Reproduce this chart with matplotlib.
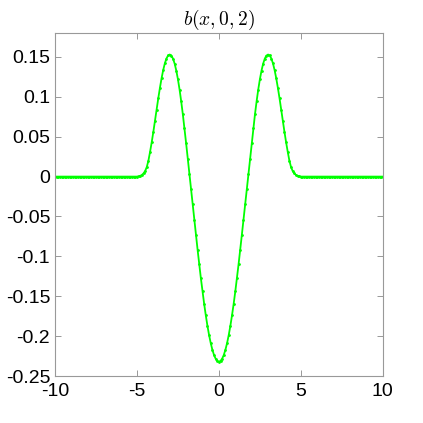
import numpy as np
import matplotlib
matplotlib.use("Agg")
import matplotlib.pyplot as plt

# values, x from -10 to 10 in steps of 0.1
x = np.round(np.linspace(-10, 10, 201), 1)
core = [
    0.0, 0.0005, 0.0010, 0.0020, 0.0040, 0.0070, 0.0120, 0.0200, 0.0310, 0.0430,
    0.0560, 0.0700, 0.0840, 0.0980, 0.1110, 0.1230, 0.1333, 0.1418, 0.1480, 0.1518,
    0.1530, 0.1517, 0.1479, 0.1416, 0.1329, 0.1220, 0.1091, 0.0943, 0.0780, 0.0604,
    0.0418, 0.0226, 0.0030, -0.0158, -0.0349, -0.0540, -0.0730, -0.0917, -0.1099, -0.1274,
    -0.1440, -0.1595, -0.1739, -0.1870, -0.1986, -0.2086, -0.2169, -0.2235, -0.2282, -0.2310,
    -0.2320,
    -0.2310, -0.2282, -0.2235, -0.2169, -0.2086, -0.1986, -0.1870, -0.1739, -0.1595, -0.1440,
    -0.1274, -0.1099, -0.0917, -0.0730, -0.0540, -0.0349, -0.0158, 0.0030, 0.0226, 0.0418,
    0.0604, 0.0780, 0.0943, 0.1091, 0.1220, 0.1329, 0.1416, 0.1479, 0.1517, 0.1530,
    0.1518, 0.1480, 0.1418, 0.1333, 0.1230, 0.1110, 0.0980, 0.0840, 0.0700, 0.0560,
    0.0430, 0.0310, 0.0200, 0.0120, 0.0070, 0.0040, 0.0020, 0.0010, 0.0005, 0.0,
]
b = [0.0] * 50 + core + [0.0] * 50

xticks = [-10, -5, 0, 5, 10]
xtick_labels = ["-10", "-5", "0", "5", "10"]
yticks = [-0.25, -0.2, -0.15, -0.1, -0.05, 0, 0.05, 0.1, 0.15]
ytick_labels = ["-0.25", "-0.2", "-0.15", "-0.1", "-0.05", "0", "0.05", "0.1", "0.15"]

plt.rcParams["font.family"] = ["Liberation Sans", "DejaVu Sans"]
plt.rcParams["mathtext.fontset"] = "cm"

fig = plt.figure(figsize=(4.23, 4.23), dpi=100)
ax = fig.add_axes([0.130, 0.111, 0.775, 0.811])

ax.plot(x, b, color="#00ff00", lw=1.3, marker=".", markersize=2)

ax.set_xlim(-10, 10)
ax.set_ylim(-0.25, 0.18)
ax.set_xticks(xticks)
ax.set_xticklabels(xtick_labels)
ax.set_yticks(yticks)
ax.set_yticklabels(ytick_labels)
ax.tick_params(direction="in", top=True, right=True, length=4, color="#888888",
               labelsize=14, width=0.6)
ax.tick_params(axis="x", pad=5)
for s in ax.spines.values():
    s.set_color("#999999")
    s.set_linewidth(0.8)

ax.set_title("$b(x,0,2)$", fontsize=14, pad=6)

fig.savefig("out.png", dpi=100)
